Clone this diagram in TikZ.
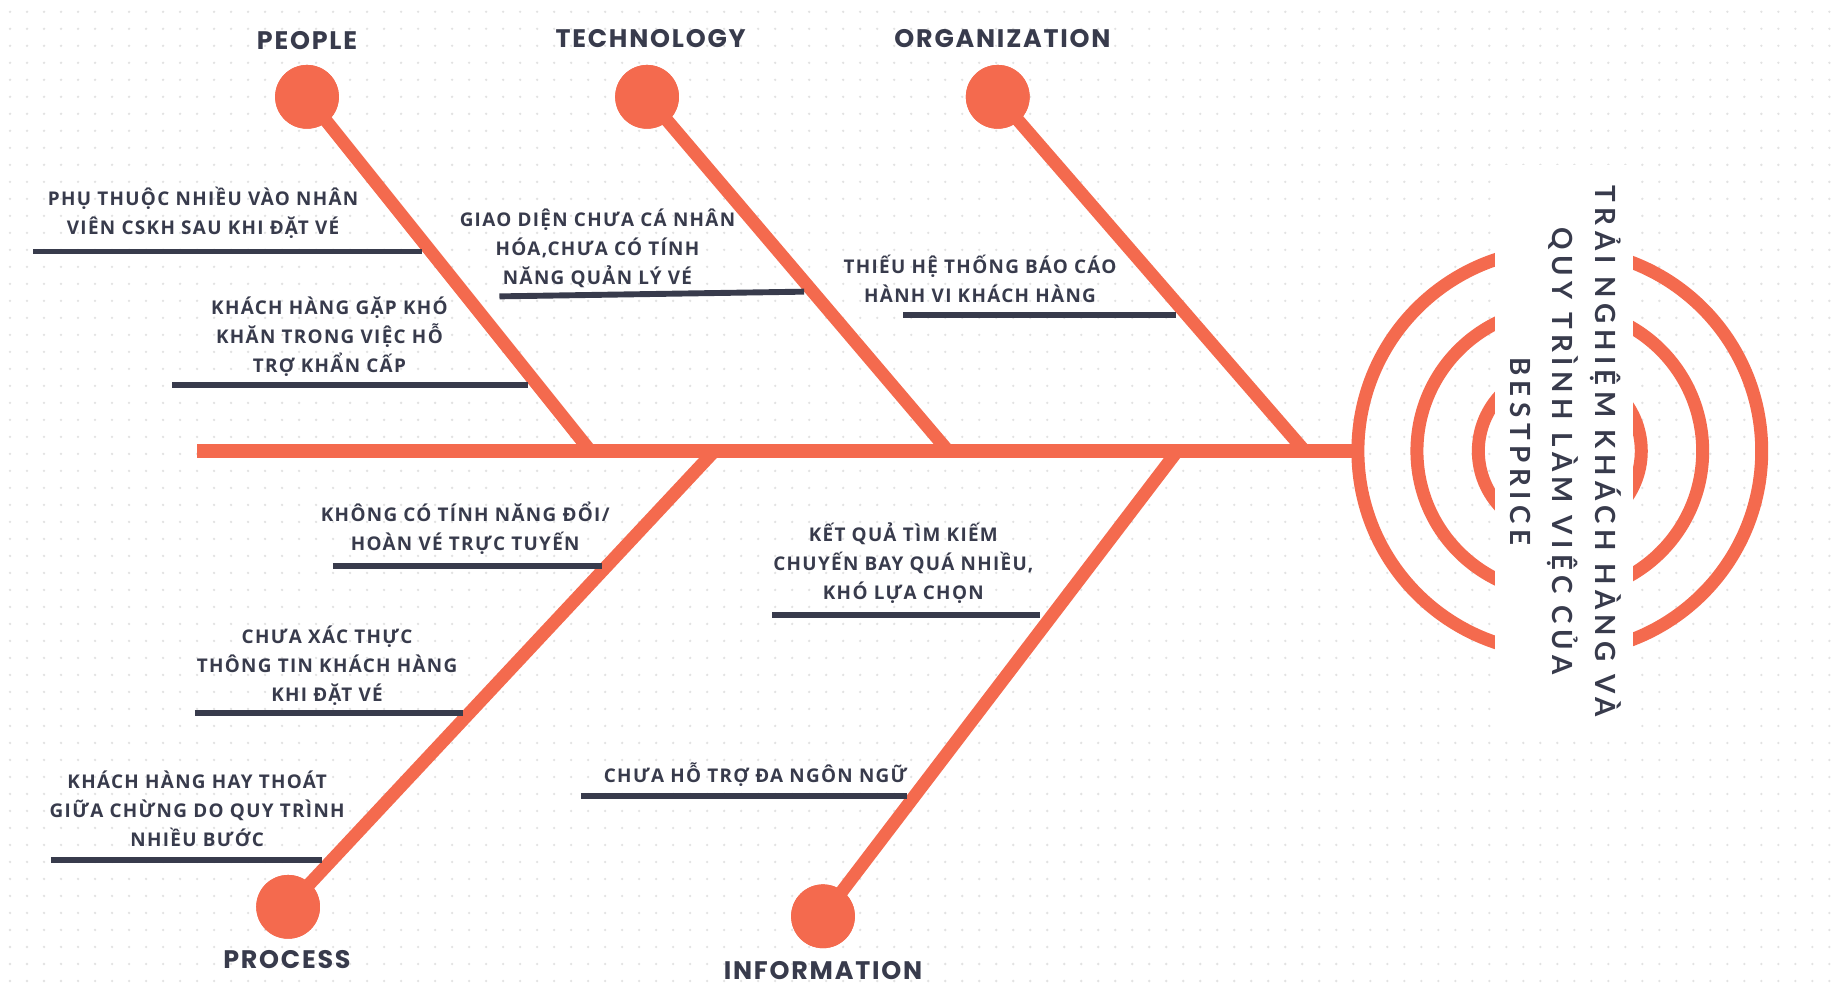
\documentclass[tikz,border=0pt]{standalone}
\usepackage{fontspec}
\setmainfont{Open Sans}
\newfontfamily\headfont[LetterSpace=7]{Poppins}
\newfontfamily\titlefont[LetterSpace=20]{Lato}
\newfontfamily\causefont[LetterSpace=7]{Open Sans}
\definecolor{coral}{HTML}{F46A4E}
\definecolor{ink}{HTML}{383B4C}
\definecolor{dotgray}{HTML}{E2E2E2}

\begin{document}
\begin{tikzpicture}[x=1pt, y=-1pt,
	bone/.style={coral, line width=11pt},
	head/.style={circle, fill=coral, minimum size=54pt, inner sep=0pt},
	ring/.style={coral, line width=11pt},
	uline/.style={ink, line width=5pt},
	cat/.style={text=ink, font=\headfont\bfseries\fontsize{21.5}{25}\selectfont},
	cause/.style={text=ink, align=center, font=\causefont\bfseries\fontsize{16}{24.5}\selectfont},
	title/.style={text=ink, align=center, font=\titlefont\bfseries\fontsize{23.5}{36}\selectfont},
	dots/.style={dotgray, line width=2.2pt, line cap=round, dash pattern=on 0pt off 14.4pt}]
	
	% --- 1. CANVAS & DOT GRID ---
	\useasboundingbox (0,0) rectangle (1560,838.4);
	\fill[white] (0,0) rectangle (1560,838.4);
	\foreach \i in {0,...,57} {
		\pgfmathsetmacro{\yy}{10+14.4*\i}
		\draw[dots] (8.5,\yy) -- (1560,\yy);
	}
	
	% --- 2. KEY POINTS ---
	\coordinate (tail) at (167,382);
	\coordinate (ctr) at (1321,382);
	\coordinate (mouth) at (1151,382);
	
	% Where the bones meet the spine
	\coordinate (jPeople) at (500,382);
	\coordinate (jTech) at (803,382);
	\coordinate (jOrg) at (1105,382);
	\coordinate (jProc) at (605,382);
	\coordinate (jInfo) at (997,382);
	
	% --- 3. HEAD (rings + title) ---
	\draw[ring] (ctr) circle (171);
	\draw[ring] (ctr) circle (121);
	\draw[ring] (ctr) circle (69);
	\fill[white] (1266,140) rectangle (1383,622);
	\node[title, rotate=-90] (ttl) at (1326,382)
		{TRẢI NGHIỆM KHÁCH HÀNG VÀ\\QUY TRÌNH LÀM VIỆC CỦA\\BESTPRICE};
	
	% --- 4. SPINE & BONES ---
	\draw[bone, line width=12pt] (tail) -- (mouth);
	
	\node[head] (people) at (260,82) {};
	\node[head] (tech) at (548,82) {};
	\node[head] (org) at (845,82) {};
	\node[head] (proc) at (244,768) {};
	\node[head] (info) at (697,776) {};
	
	\draw[bone] (people.center) -- (jPeople);
	\draw[bone] (tech.center) -- (jTech);
	\draw[bone] (org.center) -- (jOrg);
	\draw[bone] (proc.center) -- (jProc);
	\draw[bone] (info.center) -- (jInfo);
	
	% Redraw heads on top of the bone ends
	\foreach \h in {people, tech, org, proc, info}
		\fill[coral] (\h) circle (27);
	
	% Category names
	\node[cat] (lPeople) at (260,34) {PEOPLE};
	\node[cat] (lTech) at (551,33) {TECHNOLOGY};
	\node[cat] (lOrg) at (849,33) {ORGANIZATION};
	\node[cat] (lProc) at (243,813) {PROCESS};
	\node[cat] (lInfo) at (697,822) {INFORMATION};
	
	% --- 5. CAUSES ---
	% People
	\node[cause] (p1) at (172,180) {PHỤ THUỘC NHIỀU VÀO NHÂN\\VIÊN CSKH SAU KHI ĐẶT VÉ};
	\draw[uline] (28,213) -- (357,213);
	\node[cause] (p2) at (279,285) {KHÁCH HÀNG GẶP KHÓ\\KHĂN TRONG VIỆC HỖ\\TRỢ KHẨN CẤP};
	\draw[uline] (146,326) -- (447,326);
	
	% Technology
	\node[cause] (t1) at (506,210) {GIAO DIỆN CHƯA CÁ NHÂN\\HÓA,CHƯA CÓ TÍNH\\NĂNG QUẢN LÝ VÉ};
	\draw[uline] (423,251) -- (681,247);
	
	% Organization
	\node[cause] (o1) at (830,236) {THIẾU HỆ THỐNG BÁO CÁO\\HÀNH VI KHÁCH HÀNG};
	\draw[uline] (765,267) -- (996,267);
	
	% Process
	\node[cause] (r1) at (394,447) {KHÔNG CÓ TÍNH NĂNG ĐỔI/\\HOÀN VÉ TRỰC TUYẾN};
	\draw[uline] (282,479) -- (510,479);
	\node[cause] (r2) at (277,564) {CHƯA XÁC THỰC\\THÔNG TIN KHÁCH HÀNG\\KHI ĐẶT VÉ};
	\draw[uline] (165,604) -- (392,604);
	\node[cause] (r3) at (167,685) {KHÁCH HÀNG HAY THOÁT\\GIỮA CHỪNG DO QUY TRÌNH\\NHIỀU BƯỚC};
	\draw[uline] (43,728) -- (273,728);
	
	% Information
	\node[cause] (i1) at (765,477) {KẾT QUẢ TÌM KIẾM\\CHUYẾN BAY QUÁ NHIỀU,\\KHÓ LỰA CHỌN};
	\draw[uline] (654,521) -- (881,521);
	\node[cause] (i2) at (640,656) {CHƯA HỖ TRỢ ĐA NGÔN NGỮ};
	\draw[uline] (492,674) -- (768,674);
	
\end{tikzpicture}
\end{document}
